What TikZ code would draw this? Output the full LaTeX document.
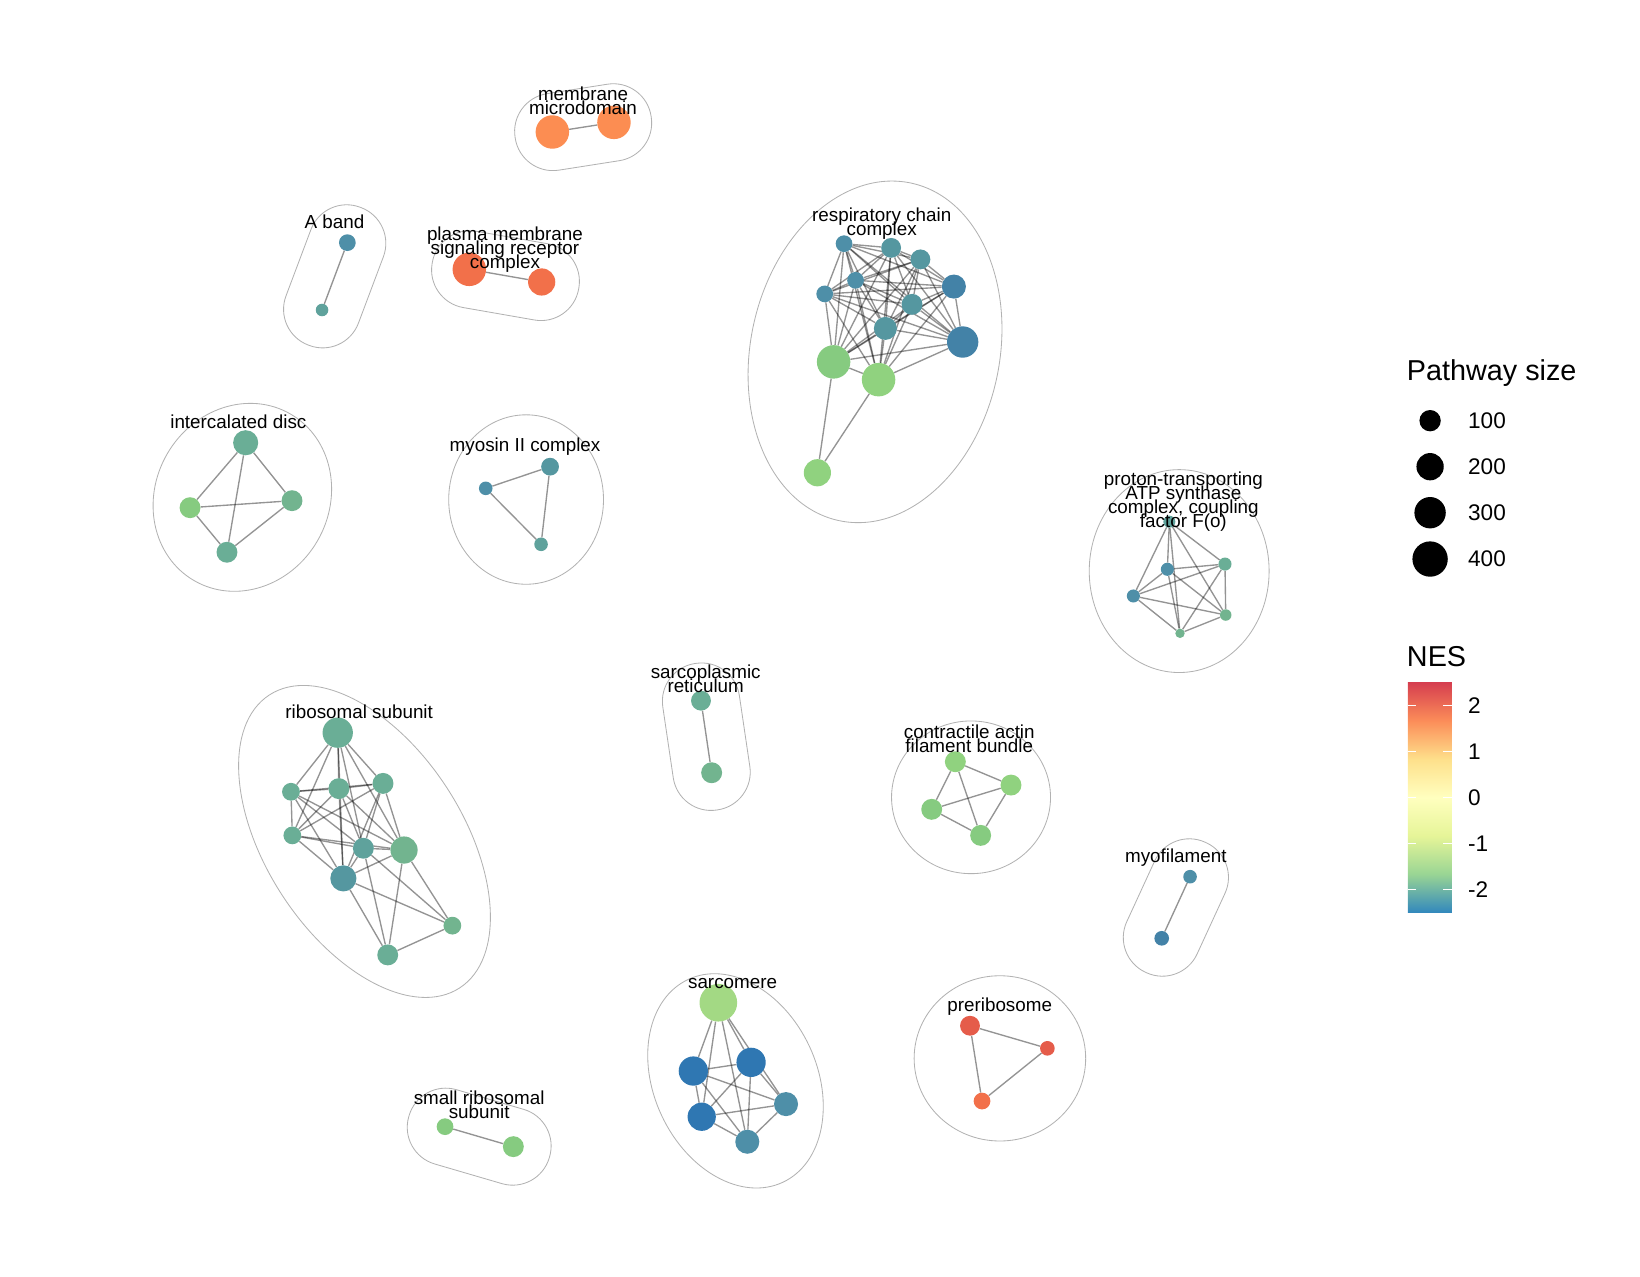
\documentclass[tikz,border=0pt]{standalone}
\usepackage{fontspec}
\setmainfont{Liberation Sans}
\usetikzlibrary{backgrounds}

\definecolor{nesBlue}{HTML}{2F77B2}
\definecolor{nesSteel}{HTML}{4382A7}
\definecolor{nesSlate}{HTML}{4E8FA8}
\definecolor{nesTeal}{HTML}{5597A0}
\definecolor{nesSea}{HTML}{5FA29C}
\definecolor{nesJade}{HTML}{6AAE96}
\definecolor{nesMint}{HTML}{72B48F}
\definecolor{nesLeaf}{HTML}{86CB80}
\definecolor{nesLime}{HTML}{90D27F}
\definecolor{nesPale}{HTML}{A3D984}
\definecolor{nesOrange}{HTML}{FC8D52}
\definecolor{nesCoral}{HTML}{F2704A}
\definecolor{nesRed}{HTML}{E55C4A}

\definecolor{barA}{HTML}{3288BD}
\definecolor{barB}{HTML}{99D594}
\definecolor{barC}{HTML}{E6F598}
\definecolor{barD}{HTML}{FFFFBF}
\definecolor{barE}{HTML}{FEE08B}
\definecolor{barF}{HTML}{FC8D59}
\definecolor{barG}{HTML}{D53E4F}
\pgfdeclareverticalshading{nesbar}{100bp}{color(0bp)=(barA); color(25bp)=(barA); color(33.333bp)=(barB); color(41.667bp)=(barC); color(50bp)=(barD); color(58.333bp)=(barE); color(66.667bp)=(barF); color(75bp)=(barG); color(100bp)=(barG)}

% tight line spacing for the cluster labels
\newcommand{\clusterfont}{\fontsize{18}{13.4}\selectfont\lineskiplimit=-30pt\relax}

\begin{document}
\begin{tikzpicture}[x=1pt,y=-1pt,
  pathwaynode/.style 2 args={circle,inner sep=0pt,minimum size=#1,fill=#2},
  link/.style={draw=black,draw opacity=0.42,line width=1.3pt},
  hull/.style={draw=black!30,line width=0.8pt},
  clusterlabel/.style={font=\clusterfont,align=center,anchor=base,inner sep=0pt},
  legendtitle/.style={font=\fontsize{27.5}{30}\selectfont,anchor=base west,inner sep=0pt},
  legendtext/.style={font=\fontsize{21.6}{24}\selectfont,anchor=west,inner sep=0pt}]
  \useasboundingbox (0,0) rectangle (1568,1220);

  % respiratory chain complex
  \node[pathwaynode={16pt}{nesSlate}] (rc1) at (807,233) {};
  \node[pathwaynode={19pt}{nesTeal}] (rc2) at (852,237) {};
  \node[pathwaynode={19pt}{nesTeal}] (rc3) at (880,248) {};
  \node[pathwaynode={23pt}{nesSteel}] (rc4) at (912,274) {};
  \node[pathwaynode={16pt}{nesSlate}] (rc5) at (818,268) {};
  \node[pathwaynode={16pt}{nesSlate}] (rc6) at (788.5,281) {};
  \node[pathwaynode={20pt}{nesTeal}] (rc7) at (872,291) {};
  \node[pathwaynode={22pt}{nesTeal}] (rc8) at (846.5,314) {};
  \node[pathwaynode={30pt}{nesSteel}] (rc9) at (920.4,327) {};
  \node[pathwaynode={32pt}{nesLeaf}] (rc10) at (797,346) {};
  \node[pathwaynode={32pt}{nesLime}] (rc11) at (840,363) {};
  \node[pathwaynode={26pt}{nesLime}] (rc12) at (781.5,452) {};

  % ribosomal subunit
  \node[pathwaynode={29pt}{nesJade}] (rs1) at (322.9,700.5) {};
  \node[pathwaynode={17pt}{nesJade}] (rs2) at (278.2,757) {};
  \node[pathwaynode={20pt}{nesJade}] (rs3) at (324,754) {};
  \node[pathwaynode={20pt}{nesJade}] (rs4) at (366.2,749) {};
  \node[pathwaynode={17pt}{nesJade}] (rs5) at (279.5,798.7) {};
  \node[pathwaynode={20pt}{nesSea}] (rs6) at (347.4,811) {};
  \node[pathwaynode={26pt}{nesMint}] (rs7) at (386.3,812.7) {};
  \node[pathwaynode={25pt}{nesTeal}] (rs8) at (328.3,839.8) {};
  \node[pathwaynode={17pt}{nesMint}] (rs9) at (432.5,885) {};
  \node[pathwaynode={20pt}{nesJade}] (rs10) at (370.7,913) {};

  % intercalated disc
  \node[pathwaynode={24pt}{nesJade}] (id1) at (234.9,423.3) {};
  \node[pathwaynode={20pt}{nesLeaf}] (id2) at (181.7,485.4) {};
  \node[pathwaynode={20pt}{nesMint}] (id3) at (279.2,478.7) {};
  \node[pathwaynode={20pt}{nesJade}] (id4) at (217,528) {};

  % myosin II complex
  \node[pathwaynode={13pt}{nesSlate}] (my1) at (464.4,466.9) {};
  \node[pathwaynode={17pt}{nesTeal}] (my2) at (525.9,446.2) {};
  \node[pathwaynode={13pt}{nesSea}] (my3) at (517.3,520.4) {};

  % proton-transporting ATP synthase
  \node[pathwaynode={11.5pt}{nesSea}] (pt1) at (1118,498.8) {};
  \node[pathwaynode={12.5pt}{nesSlate}] (pt2) at (1116.1,544.3) {};
  \node[pathwaynode={12.5pt}{nesJade}] (pt3) at (1171.2,539.3) {};
  \node[pathwaynode={12.5pt}{nesSlate}] (pt4) at (1083.6,569.8) {};
  \node[pathwaynode={11pt}{nesMint}] (pt5) at (1171.9,588) {};
  \node[pathwaynode={9pt}{nesMint}] (pt6) at (1128.2,605.5) {};

  % sarcoplasmic reticulum
  \node[pathwaynode={19pt}{nesJade}] (sp1) at (670.2,669.9) {};
  \node[pathwaynode={20pt}{nesMint}] (sp2) at (680.4,738.8) {};

  % contractile actin filament bundle
  \node[pathwaynode={20pt}{nesLime}] (ca1) at (913.4,728.3) {};
  \node[pathwaynode={20pt}{nesLime}] (ca2) at (966.6,750.6) {};
  \node[pathwaynode={20pt}{nesLeaf}] (ca3) at (890.8,773.8) {};
  \node[pathwaynode={20pt}{nesLeaf}] (ca4) at (937.6,798.7) {};

  % myofilament
  \node[pathwaynode={13pt}{nesSlate}] (mf1) at (1137.8,838.2) {};
  \node[pathwaynode={14pt}{nesSteel}] (mf2) at (1110.7,897.1) {};

  % sarcomere
  \node[pathwaynode={36pt}{nesPale}] (sc1) at (686.8,958.7) {};
  \node[pathwaynode={28pt}{nesBlue}] (sc2) at (662.9,1024) {};
  \node[pathwaynode={28pt}{nesBlue}] (sc3) at (718.1,1015.7) {};
  \node[pathwaynode={27pt}{nesBlue}] (sc4) at (670.9,1067.7) {};
  \node[pathwaynode={23pt}{nesSlate}] (sc5) at (751.5,1055.6) {};
  \node[pathwaynode={23pt}{nesSlate}] (sc6) at (714.5,1091.6) {};

  % preribosome
  \node[pathwaynode={19pt}{nesRed}] (pr1) at (927.4,980.7) {};
  \node[pathwaynode={14pt}{nesRed}] (pr2) at (1001.4,1002.3) {};
  \node[pathwaynode={16pt}{nesCoral}] (pr3) at (938.9,1052.7) {};

  % small ribosomal subunit
  \node[pathwaynode={16pt}{nesLeaf}] (ss1) at (425.5,1077.2) {};
  \node[pathwaynode={20pt}{nesLeaf}] (ss2) at (490.8,1096.3) {};

  % A band, membrane microdomain, plasma membrane receptor
  \node[pathwaynode={16pt}{nesSlate}] (ab1) at (332.1,232) {};
  \node[pathwaynode={12pt}{nesSea}] (ab2) at (307.9,296.4) {};
  \node[pathwaynode={32pt}{nesOrange}] (mm1) at (528.1,126.2) {};
  \node[pathwaynode={32pt}{nesOrange}] (mm2) at (587,117) {};
  \node[pathwaynode={32pt}{nesCoral}] (pm1) at (448.7,257.5) {};
  \node[pathwaynode={26pt}{nesCoral}] (pm2) at (517.9,269.6) {};

  % cluster labels (anchored on the last line)
  \node[clusterlabel] (microdomain) at (557.4,109.5) {membrane\\microdomain};
  \node[clusterlabel] (aband) at (319.8,218.3) {A band};
  \node[clusterlabel] (receptor) at (482.8,256.5) {plasma membrane\\signaling receptor\\complex};
  \node[clusterlabel] (respiratory) at (843,225.6) {respiratory chain\\complex};
  \node[clusterlabel] (intercalated) at (227.9,409.5) {intercalated disc};
  \node[clusterlabel] (myosin) at (502,431.9) {myosin II complex};
  \node[clusterlabel] (proton) at (1131.4,504.5) {proton-transporting\\ATP synthase\\complex, coupling\\factor F(o)};
  \node[clusterlabel] (sarcoplasmic) at (674.7,662) {sarcoplasmic\\reticulum};
  \node[clusterlabel] (ribosomal) at (343.4,686.8) {ribosomal subunit};
  \node[clusterlabel] (actin) at (926.7,719.8) {contractile actin\\filament bundle};
  \node[clusterlabel] (myofilament) at (1124.2,824.8) {myofilament};
  \node[clusterlabel] (sarcomere) at (700.4,945) {sarcomere};
  \node[clusterlabel] (preribosome) at (955.8,967.3) {preribosome};
  \node[clusterlabel] (smallribo) at (458.1,1069.5) {small ribosomal\\subunit};

  % legend: pathway size
  \node[legendtitle] (sizetitle) at (1345,364) {Pathway size};
  \node[pathwaynode={20.4pt}{black}] (key100) at (1367.3,402.2) {};
  \node[pathwaynode={26.1pt}{black}] (key200) at (1367.3,446.2) {};
  \node[pathwaynode={30pt}{black}] (key300) at (1367.3,490.2) {};
  \node[pathwaynode={33.8pt}{black}] (key400) at (1367.3,534.5) {};
  \node[legendtext] (keytext100) at (1403.5,402.2) {100};
  \node[legendtext] (keytext200) at (1403.5,446.2) {200};
  \node[legendtext] (keytext300) at (1403.5,490.2) {300};
  \node[legendtext] (keytext400) at (1403.5,534.5) {400};

  % legend: NES colour bar
  \node[legendtitle] (nestitle) at (1345,637) {NES};
  \shade[shading=nesbar] (1346,652.5) rectangle (1388,872.5);
  \draw[white,line width=1pt] (1346,674.5) -- (1354,674.5) (1380,674.5) -- (1388,674.5);
  \draw[white,line width=1pt] (1346,718.5) -- (1354,718.5) (1380,718.5) -- (1388,718.5);
  \draw[white,line width=1pt] (1346,762.5) -- (1354,762.5) (1380,762.5) -- (1388,762.5);
  \draw[white,line width=1pt] (1346,806.5) -- (1354,806.5) (1380,806.5) -- (1388,806.5);
  \draw[white,line width=1pt] (1346,850.5) -- (1354,850.5) (1380,850.5) -- (1388,850.5);
  \node[legendtext] (tickpos2) at (1403.5,674.5) {2};
  \node[legendtext] (tickpos1) at (1403.5,718.5) {1};
  \node[legendtext] (tickzero) at (1403.5,762.5) {0};
  \node[legendtext] (tickneg1) at (1403.5,806.5) {-1};
  \node[legendtext] (tickneg2) at (1403.5,850.5) {-2};

  \begin{scope}[on background layer]
    % cluster outlines
    \draw[hull,rotate around={-12:(836.6,336.4)}] (836.6,336.4) ellipse (119 and 165);
    \draw[hull,rotate around={-57:(348.5,804.5)}] (348.5,804.5) ellipse (167 and 94);
    \draw[hull,rotate around={60:(231.7,475.5)}] (231.7,475.5) ellipse (92 and 83);
    \draw[hull] (503,477.6) ellipse (74 and 81);
    \draw[hull] (1127.4,546) ellipse (86 and 97);
    \draw[hull] (928.4,762.3) ellipse (76 and 73);
    \draw[hull] (956,1011.9) ellipse (82 and 79);
    \draw[hull,rotate around={25:(703.2,1033.4)}] (703.2,1033.4) ellipse (78 and 107);
    \begin{scope}[shift={(557.55,121.6)},rotate=8.9]
      \draw[hull,rounded corners=36.5pt] (-65.8,-37) rectangle (65.8,37);
    \end{scope}
    \begin{scope}[shift={(483.3,263.55)},rotate=-9.9]
      \draw[hull,rounded corners=36.5pt] (-71.1,-37) rectangle (71.1,37);
    \end{scope}
    \begin{scope}[shift={(320,264.2)},rotate=69.4]
      \draw[hull,rounded corners=36.5pt] (-70.4,-37) rectangle (70.4,37);
    \end{scope}
    \begin{scope}[shift={(675.3,704.35)},rotate=-81.6]
      \draw[hull,rounded corners=36.5pt] (-70.8,-37) rectangle (70.8,37);
    \end{scope}
    \begin{scope}[shift={(1124.25,867.65)},rotate=65.3]
      \draw[hull,rounded corners=36.5pt] (-68.4,-37) rectangle (68.4,37);
    \end{scope}
    \begin{scope}[shift={(458.15,1086.75)},rotate=-16.3]
      \draw[hull,rounded corners=36.5pt] (-70,-37) rectangle (70,37);
    \end{scope}

    % links
    \path[link] (rc1) edge (rc2) edge (rc3) edge (rc4) edge (rc5) edge (rc6) edge (rc7) edge (rc8) edge (rc9) edge (rc10) edge (rc11);
    \path[link] (rc2) edge (rc3) edge (rc4) edge (rc5) edge (rc6) edge (rc7) edge (rc8) edge (rc9) edge (rc10) edge (rc11);
    \path[link] (rc3) edge (rc4) edge (rc5) edge (rc6) edge (rc7) edge (rc8) edge (rc9) edge (rc10) edge (rc11);
    \path[link] (rc4) edge (rc5) edge (rc6) edge (rc7) edge (rc8) edge (rc9) edge (rc10) edge (rc11);
    \path[link] (rc5) edge (rc6) edge (rc7) edge (rc8) edge (rc9) edge (rc10) edge (rc11);
    \path[link] (rc6) edge (rc7) edge (rc8) edge (rc9) edge (rc10) edge (rc11);
    \path[link] (rc7) edge (rc8) edge (rc9) edge (rc10) edge (rc11);
    \path[link] (rc8) edge (rc9) edge (rc10) edge (rc11);
    \path[link] (rc9) edge (rc10) edge (rc11);
    \path[link] (rc10) edge (rc11);
    \path[link] (rc12) edge (rc10) edge (rc11);

    \path[link] (rs1) edge (rs2) edge (rs3) edge (rs4) edge (rs5) edge (rs6) edge (rs7) edge (rs8);
    \path[link] (rs2) edge (rs3) edge (rs4) edge (rs5) edge (rs6) edge (rs7) edge (rs8);
    \path[link] (rs3) edge (rs4) edge (rs5) edge (rs6) edge (rs7) edge (rs8);
    \path[link] (rs4) edge (rs5) edge (rs6) edge (rs7) edge (rs8);
    \path[link] (rs5) edge (rs6) edge (rs7) edge (rs8);
    \path[link] (rs6) edge (rs7) edge (rs8) edge (rs9) edge (rs10);
    \path[link] (rs7) edge (rs8) edge (rs9) edge (rs10);
    \path[link] (rs8) edge (rs9) edge (rs10);
    \path[link] (rs9) edge (rs10);

    \path[link] (id1) edge (id2) edge (id3) edge (id4);
    \path[link] (id2) edge (id3) edge (id4);
    \path[link] (id3) edge (id4);

    \path[link] (my1) edge (my2) edge (my3);
    \path[link] (my2) edge (my3);

    \path[link] (pt1) edge (pt2) edge (pt3) edge (pt4) edge (pt5) edge (pt6);
    \path[link] (pt2) edge (pt3) edge (pt4) edge (pt5) edge (pt6);
    \path[link] (pt3) edge (pt4) edge (pt5) edge (pt6);
    \path[link] (pt4) edge (pt5) edge (pt6);
    \path[link] (pt5) edge (pt6);

    \path[link] (sp1) edge (sp2);

    \path[link] (ca1) edge (ca2) edge (ca3) edge (ca4);
    \path[link] (ca2) edge (ca3) edge (ca4);
    \path[link] (ca3) edge (ca4);

    \path[link] (mf1) edge (mf2);

    \path[link] (sc1) edge (sc2) edge (sc3) edge (sc4) edge (sc5) edge (sc6);
    \path[link] (sc2) edge (sc3) edge (sc4) edge (sc5) edge (sc6);
    \path[link] (sc3) edge (sc4) edge (sc5) edge (sc6);
    \path[link] (sc4) edge (sc5) edge (sc6);
    \path[link] (sc5) edge (sc6);

    \path[link] (pr1) edge (pr2) edge (pr3);
    \path[link] (pr2) edge (pr3);

    \path[link] (ss1) edge (ss2);
    \path[link] (ab1) edge (ab2);
    \path[link] (mm1) edge (mm2);
    \path[link] (pm1) edge (pm2);
  \end{scope}
\end{tikzpicture}
\end{document}
